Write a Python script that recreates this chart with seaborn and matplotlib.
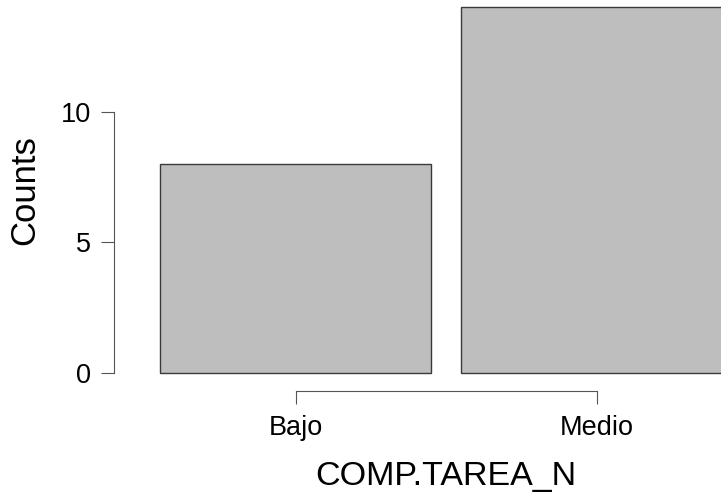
import pandas as pd
import seaborn as sns
import matplotlib.pyplot as plt

categorias = ["Bajo", "Medio"]
conteos = [8, 14]

df = pd.DataFrame({"COMP.TAREA_N": categorias, "Counts": conteos})

sns.set_style("white")
plt.rcParams["font.family"] = ["Liberation Sans", "DejaVu Sans"]

W, H = 721, 494
fig = plt.figure(figsize=(W / 100, H / 100), dpi=100)
ax = fig.add_axes([114 / W, (H - 390.7) / H, (W - 114) / W, 390.7 / H])

sns.barplot(data=df, x="COMP.TAREA_N", y="Counts", color="#bebebe",
            edgecolor="#3a3a3a", linewidth=1.0, width=0.9, saturation=1, ax=ax)

ax.set_xlim(-0.603, 1.413)
ax.set_ylim(-0.69, 14.28)
ax.set_yticks([0, 5, 10])

for s in ["top", "right"]:
    ax.spines[s].set_visible(False)
ax.spines["left"].set_bounds(0, 10)
ax.spines["bottom"].set_bounds(0, 1)
for s in ["left", "bottom"]:
    ax.spines[s].set_color("#555555")
    ax.spines[s].set_linewidth(0.8)

ax.tick_params(axis="both", direction="out", length=9.5, width=0.8, color="#555555",
               labelsize=19.5, labelcolor="black")
ax.tick_params(axis="y", pad=7, left=True)
ax.tick_params(axis="x", pad=8, bottom=True)

ax.set_xlabel("COMP.TAREA_N", fontsize=24.5, color="black")
ax.set_ylabel("Counts", fontsize=25, color="black")
ax.xaxis.set_label_coords((446 - 114) / (W - 114), -(476 - 390.7) / 390.7)
ax.yaxis.set_label_coords(-(114 - 25) / (W - 114), (390.7 - 190) / 390.7)
ax.xaxis.label.set_verticalalignment("center")
ax.yaxis.label.set_verticalalignment("center")

fig.savefig("out.png", dpi=100)
